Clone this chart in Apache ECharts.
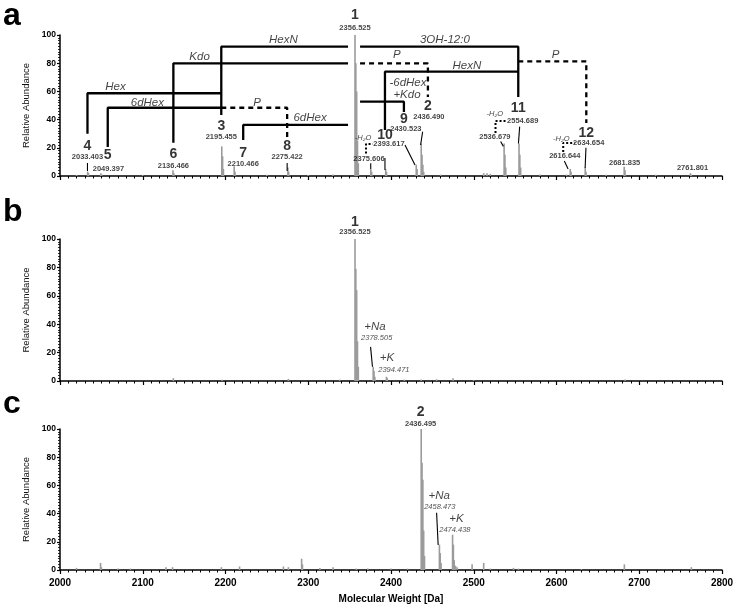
<!DOCTYPE html>
<html><head><meta charset="utf-8">
<script src="https://cdn.jsdelivr.net/npm/echarts@6/dist/echarts.min.js"></script>
<style>html,body{margin:0;padding:0;background:#fff}#c{width:739px;height:607px}</style>
</head><body><div id="c"></div>
<script>
// ---------- data ----------
const xTicks = [2000, 2100, 2200, 2300, 2400, 2500, 2600, 2700, 2800];
const yTicks = [0, 20, 40, 60, 80, 100];

// panel a spectrum
const massA = [2020, 2033.4, 2034.4, 2049.4, 2050.4, 2100, 2136.5, 2137.5, 2195.5, 2196.5, 2197.5, 2210.5, 2211.5, 2250, 2275.4, 2276.4, 2300, 2330, 2356.5, 2357.5, 2358.5, 2359.5, 2360.5, 2375.6, 2376.6, 2393.6, 2394.6, 2430.5, 2431.5, 2436.5, 2437.5, 2438.5, 2439.5, 2460, 2512, 2516, 2520, 2536.7, 2537.7, 2538.7, 2554.7, 2555.7, 2556.7, 2580, 2612, 2616.6, 2617.6, 2634.7, 2635.7, 2660, 2681.8, 2682.8, 2720, 2761.8, 2762.8];
const intA  = [0.8, 3, 2, 2, 1, 0.8, 4, 2, 21, 14, 5, 7, 3, 0.8, 6, 3, 0.8, 1, 100, 80, 60, 25, 9, 5, 3, 5, 3, 8, 5, 23, 15, 8, 3, 1, 2, 2, 1.5, 23, 15, 6, 23, 15, 6, 1, 1, 5, 3, 6, 3, 0.8, 6.5, 4, 0.8, 2, 1];

// panel b spectrum
const massB = [2137, 2196, 2276, 2338, 2356.5, 2357.5, 2358.5, 2359.5, 2360.5, 2378.5, 2379.5, 2380.5, 2394.5, 2395.5, 2416, 2436.5, 2455, 2475, 2500, 2683];
const intB  = [2, 0.8, 1.5, 1, 100, 79, 64, 28, 10, 10, 7, 3, 3, 2, 1, 1, 1.2, 2, 0.6, 1];

// panel c spectrum
const massC = [2020, 2049, 2050, 2070, 2085, 2128, 2136, 2195, 2217, 2270, 2276, 2292, 2293, 2314, 2330, 2358, 2372, 2400, 2420, 2436.5, 2437.5, 2438.5, 2439.5, 2440.5, 2458.5, 2459.5, 2460.5, 2474.4, 2475.4, 2476.4, 2478, 2480, 2498, 2512, 2520, 2548, 2554, 2630, 2682, 2763];
const intC  = [1.5, 5, 2, 1, 1, 2, 2, 2, 2.5, 2.5, 2, 8, 4, 1.5, 2, 1, 1, 1, 1, 100, 76, 64, 28, 10, 18, 12, 5, 25, 18, 7, 3, 2, 4, 5, 1, 1.5, 1, 0.6, 4, 2];

// compound numbers (panel a)
const cmpLabels = ['1','2','3','4','5','6','7','8','9','10','11','12'];
const cmpX = [2356.5, 2444.6, 2194.9, 2033.2, 2057.7, 2137, 2221.4, 2274.5, 2415.6, 2392.7, 2553.8, 2636];
const cmpY = [114.2, 49.6, 35.5, 21.5, 14.9, 15.6, 16.5, 21.3, 40.4, 29, 48.2, 30.3];

// mass labels (panel a)
const mzLabels = ['2356.525','2033.403','2049.397','2136.466','2195.455','2210.466','2275.422','2375.606','2393.617','2430.523','2436.490','2536.679','2554.689','2616.644','2634.654','2681.835','2761.801'];
const mzX = [2356.5, 2033.2, 2058.5, 2137, 2194.9, 2221.4, 2274.5, 2373.4, 2397.5, 2418, 2445.8, 2525.5, 2559.2, 2610, 2638.9, 2682.3, 2764.4];
const mzY = [105, 13.3, 5, 7.3, 27.4, 8.5, 13.5, 12, 22.7, 33.3, 42, 27.4, 39.2, 14.2, 23.2, 9.4, 5.7];

// transformation labels (panel a)
const trLabels = ['HexN','Kdo','Hex','6dHex','P','6dHex','3OH-12:0','P','HexN','-6dHex','+Kdo','P'];
const trX = [2270, 2168.7, 2067, 2105.6, 2238.3, 2302.2, 2465.1, 2407.2, 2491.7, 2420.5, 2419.3, 2599];
const trY = [96.5, 84.2, 63.1, 52, 52, 41.1, 96.5, 85.8, 78, 66, 57.4, 85.8];

// water-loss labels (panel a)
const h2oX = [2366.2, 2525.5, 2605.9];
const h2oY = [27, 44, 26.2];

// bracket paths (panel a), [mass, %]
const solidPaths = [
  [[2033.2, 30], [2033.2, 58.7], [2194.9, 58.7]],
  [[2057.7, 20.5], [2057.7, 48.4], [2194.9, 48.4]],
  [[2137, 23.6], [2137, 79.9], [2348.1, 79.9]],
  [[2194.9, 43.3], [2194.9, 91.7], [2348.1, 91.7]],
  [[2221.4, 25.5], [2221.4, 36.2], [2348.1, 36.2]],
  [[2362.6, 91.7], [2553.8, 91.7], [2553.8, 56]],
  [[2392.7, 32.6], [2392.7, 74], [2553.8, 74]],
  [[2362.6, 52.7], [2415.6, 52.7], [2415.6, 45.4]]
];
const dashedPaths = [
  [[2194.9, 48.4], [2274.5, 48.4], [2274.5, 25.5]],
  [[2362.6, 79.9], [2444.6, 79.9], [2444.6, 56]],
  [[2553.8, 81.3], [2636, 81.3], [2636, 37.6]]
];
const dottedPaths = [
  [[2369.8, 16], [2369.8, 22.7], [2378, 22.7]],
  [[2526.3, 30.5], [2526.3, 39], [2540, 39]],
  [[2608.1, 17], [2608.1, 23.4], [2622, 23.4]]
];
const connA = [
  [[2033.2, 9.2], [2033.2, 3.5]],
  [[2274.5, 9.2], [2274.5, 3.5]],
  [[2375.5, 9], [2375.5, 5]],
  [[2392.7, 12.8], [2392.7, 4.3]],
  [[2416.9, 22], [2429, 7.8]],
  [[2438.2, 31.4], [2435.8, 22]],
  [[2532.5, 24.5], [2535.8, 21]],
  [[2555.5, 35], [2554, 23]],
  [[2609.5, 10.7], [2614, 5]],
  [[2635.6, 20], [2634.6, 5.7]]
];

// panel b annotations
const bLabels = ['1', '2356.525', '+Na', '2378.505', '+K', '2394.471'];
const bX = [2356.5, 2356.5, 2380.7, 2382.7, 2395, 2403.5];
const bY = [112, 105, 38.2, 30, 16, 7.5];
const connB = [[[2375.3, 24], [2377.6, 10]]];

// panel c annotations
const cLabels = ['2', '2436.495', '+Na', '2458.473', '+K', '2474.438'];
const cX = [2435.8, 2435.8, 2458.3, 2459, 2479.2, 2477.2];
const cY = [112.3, 103.5, 52.5, 45, 36, 28.4];
const connC = [[[2455.1, 40.6], [2457, 17.7]]];

// ---------- styles ----------
const FF = "'Liberation Sans', Arial, sans-serif";
const numStyle = {fontSize: 14, fontWeight: 'bold', color: '#000', fontFamily: FF};
const mzStyle  = {fontSize: 7.5, fontWeight: 'bold', color: '#111', fontFamily: FF};
const trStyle  = {fontSize: 11.5, fontStyle: 'italic', color: '#111', fontFamily: FF};
const h2oStyle = {fontSize: 7.5, fontStyle: 'italic', color: '#111', fontFamily: FF};
const smallIt  = {fontSize: 7.5, fontStyle: 'italic', color: '#222', fontFamily: FF};
const ionStyle = {fontSize: 11.5, fontStyle: 'italic', color: '#111', fontFamily: FF};

const grids = [
  {left: 60, right: 17, top: 35, height: 141},
  {left: 60, right: 17, top: 239, height: 142},
  {left: 60, right: 17, top: 429, height: 141}
];

function xAxisFor(i) {
  return {
    type: 'value', gridIndex: i, min: xTicks[0], max: xTicks[xTicks.length - 1], interval: 100,
    axisLine: {show: true, onZero: false, lineStyle: {color: '#000', width: 1.5}},
    axisTick: {show: true, length: 4, lineStyle: {color: '#000', width: 1.2}},
    minorTick: {show: true, splitNumber: 10, length: 2.5, lineStyle: {color: '#000', width: 1}},
    splitLine: {show: false},
    axisLabel: {show: i === 2, fontSize: 10, fontWeight: 'bold', color: '#000', fontFamily: FF, margin: 8,
      formatter: v => String(v)},
    name: i === 2 ? 'Molecular Weight [Da]' : '',
    nameLocation: 'middle', nameGap: 24,
    nameTextStyle: {fontSize: 10, fontWeight: 'bold', color: '#000', fontFamily: FF}
  };
}
function yAxisFor(i) {
  return {
    type: 'value', gridIndex: i, min: yTicks[0], max: yTicks[yTicks.length - 1], interval: 20,
    axisLine: {show: true, lineStyle: {color: '#000', width: 1.5}},
    axisTick: {show: true, length: 3, lineStyle: {color: '#000', width: 1.2}},
    minorTick: {show: true, splitNumber: 10, length: 2, lineStyle: {color: '#000', width: 0.8}},
    splitLine: {show: false},
    axisLabel: {fontSize: 8.5, fontWeight: 'bold', color: '#000', fontFamily: FF, margin: 4,
      formatter: v => String(v)},
    name: 'Relative Abundance', nameLocation: 'middle', nameGap: 17,
    nameTextStyle: {fontSize: 9.5, color: '#111', fontFamily: FF}
  };
}

function peakSeries(i, mass, inten) {
  return {
    type: 'custom', xAxisIndex: i, yAxisIndex: i, silent: true, z: 2,
    data: mass.map((m, k) => [m, inten[k]]),
    renderItem: function (params, api) {
      const p0 = api.coord([api.value(0), 0]);
      const p1 = api.coord([api.value(0), api.value(1)]);
      return {type: 'line', shape: {x1: p0[0], y1: p0[1], x2: p1[0], y2: p1[1]},
        style: {stroke: '#9b9b9b', lineWidth: 1.6}};
    }
  };
}
function pathSeries(i, pts, lineStyle) {
  return {
    type: 'line', xAxisIndex: i, yAxisIndex: i, data: pts, showSymbol: false, symbol: 'none',
    silent: true, z: 4, clip: false, lineStyle: lineStyle
  };
}
function textSeries(i, labels, xs, ys, styleFn) {
  return {
    type: 'scatter', xAxisIndex: i, yAxisIndex: i, symbolSize: 0, silent: true, clip: false, z: 5,
    data: labels.map((t, k) => ({
      value: [xs[k], ys[k]],
      label: Object.assign({show: true, position: 'inside', align: 'center', verticalAlign: 'middle', formatter: t}, styleFn(t, k))
    }))
  };
}

const series = [];
series.push(peakSeries(0, massA, intA));
series.push(peakSeries(1, massB, intB));
series.push(peakSeries(2, massC, intC));

const solidLS = {color: '#000', width: 2.3, type: 'solid'};
const dashLS = {color: '#000', width: 2.3, type: [5, 4]};
const dotLS = {color: '#000', width: 2, type: [2, 2]};
const thinLS = {color: '#000', width: 1.1, type: 'solid'};
solidPaths.forEach(p => series.push(pathSeries(0, p, solidLS)));
dashedPaths.forEach(p => series.push(pathSeries(0, p, dashLS)));
dottedPaths.forEach(p => series.push(pathSeries(0, p, dotLS)));
connA.forEach(p => series.push(pathSeries(0, p, thinLS)));
connB.forEach(p => series.push(pathSeries(1, p, thinLS)));
connC.forEach(p => series.push(pathSeries(2, p, thinLS)));

series.push(textSeries(0, cmpLabels, cmpX, cmpY, () => numStyle));
series.push(textSeries(0, mzLabels, mzX, mzY, () => mzStyle));
series.push(textSeries(0, trLabels, trX, trY, () => trStyle));
series.push(textSeries(0, h2oX.map(() => '-H₂O'), h2oX, h2oY, () => h2oStyle));

const abStyle = (t, k) => k === 0 ? numStyle : (k === 1 ? mzStyle : (k % 2 === 0 ? ionStyle : smallIt));
series.push(textSeries(1, bLabels, bX, bY, abStyle));
series.push(textSeries(2, cLabels, cX, cY, abStyle));

const chart = echarts.init(document.getElementById('c'), null, {renderer: 'canvas'});
chart.setOption({
  animation: false,
  backgroundColor: '#fff',
  grid: grids,
  xAxis: [xAxisFor(0), xAxisFor(1), xAxisFor(2)],
  yAxis: [yAxisFor(0), yAxisFor(1), yAxisFor(2)],
  graphic: [
    {type: 'text', left: 3, top: 0, style: {text: 'a', fontSize: 32, fontWeight: 'bold', fill: '#000', fontFamily: FF}},
    {type: 'text', left: 3, top: 196, style: {text: 'b', fontSize: 32, fontWeight: 'bold', fill: '#000', fontFamily: FF}},
    {type: 'text', left: 3, top: 388, style: {text: 'c', fontSize: 32, fontWeight: 'bold', fill: '#000', fontFamily: FF}}
  ],
  series: series
});
</script>
</body></html>
